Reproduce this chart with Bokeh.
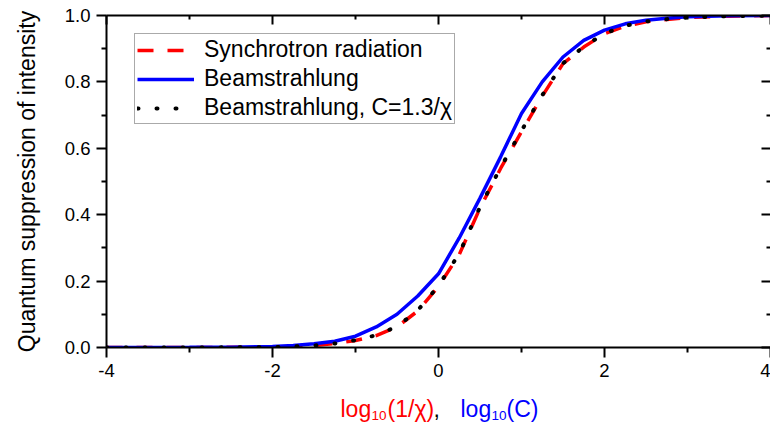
from bokeh.plotting import figure
from bokeh.layouts import column
from bokeh.models import (LinearAxis, Range1d, NumeralTickFormatter, Legend,
                          LegendItem, FixedTicker)
from bokeh.core.properties import value
from bokeh.embed import file_html
from bokeh.resources import INLINE

# ---- data ----
x_vals = [-4, -3, -2.5, -2, -1.75, -1.5, -1.25, -1, -0.75, -0.5, -0.25, 0, 0.25,
          0.5, 0.75, 1, 1.25, 1.5, 1.75, 2, 2.25, 2.5, 2.75, 3, 3.5, 4]
sync_y = [0.0, 0.0, 0.0005, 0.001, 0.003, 0.006, 0.012, 0.021, 0.036, 0.062, 0.11, 0.184,
          0.28, 0.42, 0.54, 0.65, 0.757, 0.855, 0.905, 0.945, 0.968, 0.981, 0.988, 0.994,
          0.998, 1.0]
beam_y = [0.0, 0.0005, 0.001, 0.003, 0.006, 0.011, 0.019, 0.034, 0.062, 0.10, 0.155, 0.222,
          0.33, 0.45, 0.575, 0.705, 0.80, 0.875, 0.925, 0.956, 0.975, 0.986, 0.992, 0.996,
          0.999, 1.0]
beam_c_y = [0.0, 0.0, 0.0005, 0.001, 0.003, 0.006, 0.012, 0.022, 0.037, 0.063, 0.112, 0.186,
            0.283, 0.423, 0.543, 0.653, 0.76, 0.856, 0.906, 0.946, 0.969, 0.982, 0.989, 0.994,
            0.998, 1.0]

x_major = [-4, -2, 0, 2, 4]
x_minor = [-3, -1, 1, 3]
y_major = [0.0, 0.2, 0.4, 0.6, 0.8, 1.0]
y_minor = [0.1, 0.3, 0.5, 0.7, 0.9]

legend_labels = ["Synchrotron radiation", "Beamstrahlung", "Beamstrahlung, C=1.3/\u03c7"]
y_label = "Quantum suppression of intensity"

# x-axis label pieces
xl_main = ["log", "(1/\u03c7)", ",", "log", "(C)"]
xl_main_col = ["red", "red", "black", "blue", "blue"]
xl_main_x = [-1.181, -0.614, -0.060, 0.265, 0.819]
xl_sub = ["10", "10"]
xl_sub_col = ["red", "blue"]
xl_sub_x = [-0.807, 0.639]

FONT = "Liberation Sans"

xr = Range1d(-4, 4)
p = figure(width=770, height=385, x_range=xr, y_range=Range1d(0, 1),
           output_backend="svg", toolbar_location=None, title=None,
           min_border_left=106, min_border_right=0, min_border_top=15, min_border_bottom=38)
p.grid.visible = False
p.outline_line_color = None
p.background_fill_color = "white"
p.border_fill_color = "white"

xt = FixedTicker(ticks=x_major, minor_ticks=x_minor)
yt = FixedTicker(ticks=y_major, minor_ticks=y_minor)

for ax in p.xaxis:
    ax.ticker = xt
    ax.formatter = NumeralTickFormatter(format="0")
for ax in p.yaxis:
    ax.ticker = yt
    ax.formatter = NumeralTickFormatter(format="0.0")

for ax in list(p.xaxis) + list(p.yaxis):
    ax.axis_line_width = 2
    ax.axis_line_color = "black"
    ax.major_tick_line_width = 2
    ax.minor_tick_line_width = 2
    ax.major_tick_line_color = "black"
    ax.minor_tick_line_color = "black"
    ax.major_tick_in = 0
    ax.major_tick_out = 10
    ax.minor_tick_in = 0
    ax.minor_tick_out = 5
    ax.major_label_text_font = FONT
    ax.major_label_text_font_size = "18.5px"
    ax.major_label_text_color = "black"
    ax.major_label_standoff = 6

p.yaxis.axis_label = y_label
p.yaxis.axis_label_text_font = FONT
p.yaxis.axis_label_text_font_size = "23px"
p.yaxis.axis_label_text_font_style = "normal"
p.yaxis.axis_label_text_color = "black"
p.yaxis.axis_label_standoff = 22

# top and right axes: inward ticks, no labels
top = LinearAxis(ticker=xt, major_tick_in=9, major_tick_out=0, minor_tick_in=4, minor_tick_out=0,
                 axis_line_width=2, major_tick_line_width=2, minor_tick_line_width=2,
                 major_label_overrides={float(t): "" for t in x_major},
                 major_label_text_font_size="1px", major_label_standoff=0)
right = LinearAxis(ticker=yt, major_tick_in=9, major_tick_out=0, minor_tick_in=4, minor_tick_out=0,
                   axis_line_color=None, major_tick_line_width=2, minor_tick_line_width=2,
                   major_label_overrides={float(t): "" for t in y_major},
                   major_label_text_font_size="1px", major_label_standoff=0)
p.add_layout(top, "above")
p.add_layout(right, "right")

r_sync = p.line(x_vals, sync_y, line_color="red", line_width=3.5, line_dash="16 14")
r_beam = p.line(x_vals, beam_y, line_color="blue", line_width=3.5)
r_bc = p.line(x_vals, beam_c_y, line_color="black", line_width=4, line_dash="1 18",
              line_cap="round")

legend = Legend(items=[LegendItem(label=legend_labels[0], renderers=[r_sync]),
                       LegendItem(label=legend_labels[1], renderers=[r_beam]),
                       LegendItem(label=legend_labels[2], renderers=[r_bc])],
                location=(28, 223))
legend.label_text_font = FONT
legend.label_text_font_size = "23px"
legend.label_text_color = "black"
legend.glyph_width = 57
legend.glyph_height = 20
legend.label_height = 20
legend.label_standoff = 10
legend.padding = 2
legend.spacing = 2
legend.margin = 0
legend.border_line_color = "#555555"
legend.border_line_width = 1.5
legend.background_fill_alpha = 1.0
p.add_layout(legend)

# strip below the plot holding the two-coloured x-axis label
p2 = figure(width=770, height=42, x_range=xr, y_range=Range1d(0, 42),
            output_backend="svg", toolbar_location=None, title=None,
            min_border_left=106, min_border_right=0, min_border_top=0, min_border_bottom=0)
p2.axis.visible = False
p2.grid.visible = False
p2.outline_line_color = None
p2.border_fill_color = "white"
p2.text(x=xl_main_x, y=[19] * len(xl_main), text=xl_main, text_color=xl_main_col,
        text_font=value(FONT), text_font_size="23px", text_baseline="alphabetic",
        text_align="left")
p2.text(x=xl_sub_x, y=[12] * len(xl_sub), text=xl_sub, text_color=xl_sub_col,
        text_font=value(FONT), text_font_size="13.5px", text_baseline="alphabetic",
        text_align="left")

layout = column(p, p2, spacing=0)
open("out.html", "w").write(file_html(layout, INLINE))
